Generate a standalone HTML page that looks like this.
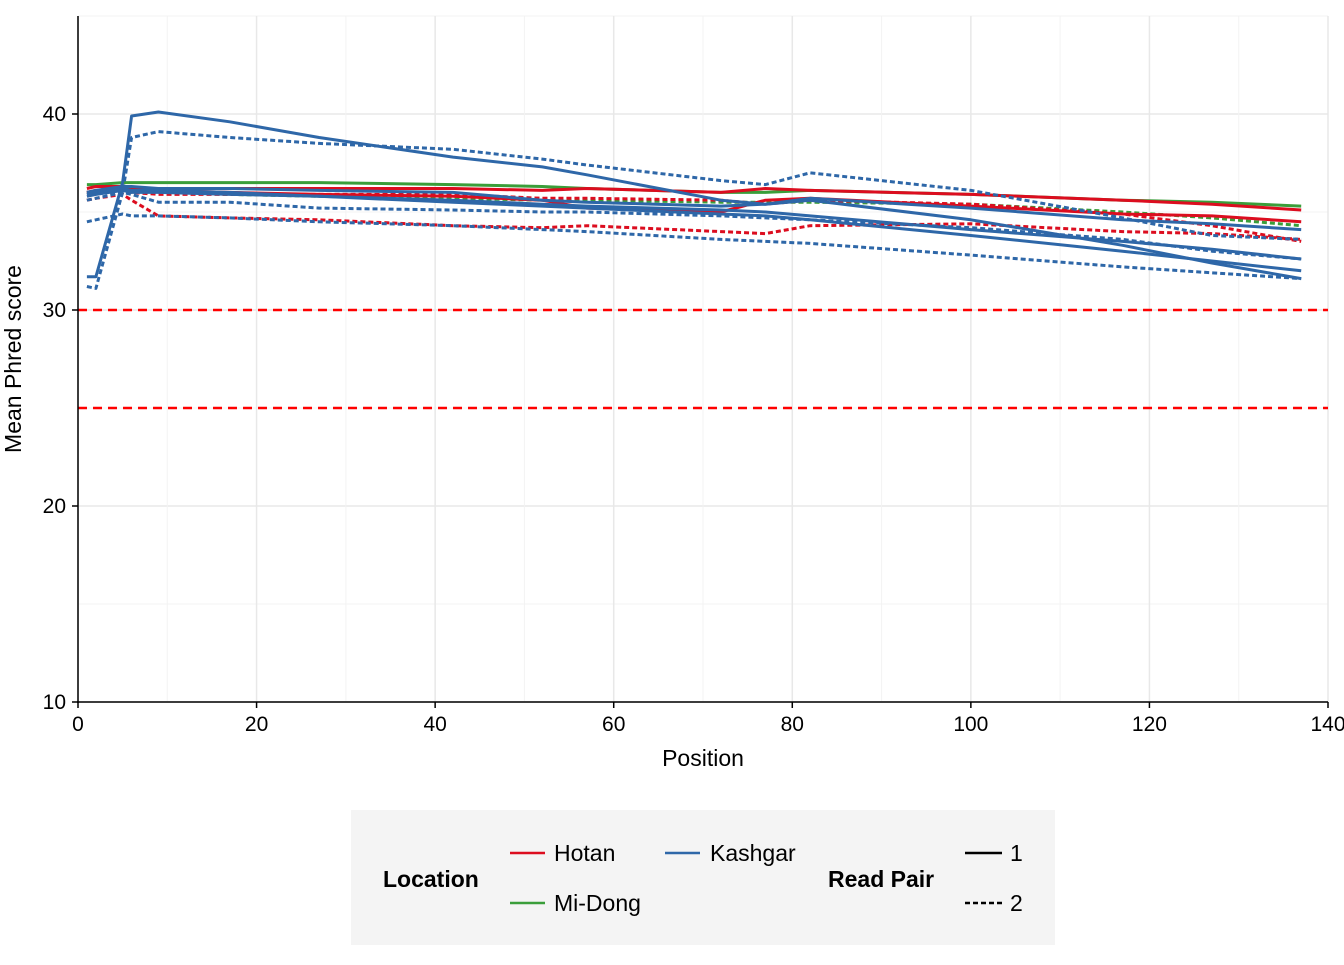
<!DOCTYPE html>
<html><head><meta charset="utf-8"><style>
body{margin:0;background:#fff;font-family:"Liberation Sans",Arial,sans-serif}
</style></head><body>
<svg id="chart" width="1344" height="960" xmlns="http://www.w3.org/2000/svg" font-family="Liberation Sans, Arial, sans-serif">
<g id="grid"></g>
<g id="series"></g>
<g id="axes"></g>
<text x="703" y="766" font-size="23" text-anchor="middle">Position</text>
<text transform="translate(21,359) rotate(-90)" font-size="23" text-anchor="middle">Mean Phred score</text>
<g>
<rect x="351" y="810" width="704" height="135" fill="#f4f4f4"/>
<text x="383" y="887" font-size="23" font-weight="bold">Location</text>
<line x1="510" y1="853" x2="545" y2="853" stroke="#dc0d1f" stroke-width="2.5"/>
<text x="554" y="861" font-size="23">Hotan</text>
<line x1="665" y1="853" x2="700" y2="853" stroke="#2e67a8" stroke-width="2.5"/>
<text x="710" y="861" font-size="23">Kashgar</text>
<line x1="510" y1="903" x2="545" y2="903" stroke="#3a9e3a" stroke-width="2.5"/>
<text x="554" y="911" font-size="23">Mi-Dong</text>
<text x="828" y="887" font-size="23" font-weight="bold">Read Pair</text>
<line x1="965" y1="853" x2="1002" y2="853" stroke="#000" stroke-width="2.5"/>
<text x="1010" y="861" font-size="23">1</text>
<line x1="965" y1="903" x2="1002" y2="903" stroke="#000" stroke-width="2.5" stroke-dasharray="5,3"/>
<text x="1010" y="911" font-size="23">2</text>
</g>
</svg>
<script>
const positions=[1,2,5,6,9,17,27,42,52,57,72,77,82,100,117,127,137];
const xTicks=[0,20,40,60,80,100,120,140];
const yTicks=[10,20,30,40];
const thresholds=[30,25];
const kashgar1a=[31.7,31.7,36.5,39.9,40.1,39.6,38.8,37.8,37.3,36.9,35.6,35.4,35.6,34.6,33.3,32.4,31.6];
const kashgar2a=[31.2,31.1,36.0,38.8,39.1,38.8,38.5,38.2,37.7,37.4,36.6,36.4,37.0,36.1,34.7,33.8,33.6];
const kashgar1b=[36.0,36.1,36.3,36.3,36.2,36.2,36.1,36.0,35.6,35.5,35.3,35.4,35.7,35.2,34.6,34.4,34.1];
const kashgar1c=[35.8,35.9,36.1,36.0,36.0,35.9,35.8,35.6,35.4,35.3,35.1,35.0,34.8,34.1,33.5,33.1,32.6];
const kashgar1d=[35.9,36.0,36.2,36.1,36.1,36.0,35.8,35.5,35.3,35.2,34.9,34.8,34.6,33.8,33.0,32.5,32.0];
const kashgar2b=[34.5,34.6,34.9,34.8,34.8,34.7,34.5,34.3,34.1,34.0,33.6,33.5,33.4,32.8,32.2,31.9,31.6];
const kashgar2c=[35.6,35.7,36.0,35.9,35.5,35.5,35.2,35.1,35.0,35.0,34.8,34.7,34.6,34.2,33.6,33.0,32.6];
const hotan1a=[36.2,36.3,36.3,36.2,36.2,36.2,36.2,36.2,36.1,36.2,36.0,36.2,36.1,35.9,35.6,35.4,35.1];
const hotan1b=[36.0,36.1,36.2,36.1,36.1,36.0,35.9,35.8,35.6,35.2,35.0,35.6,35.7,35.3,34.9,34.8,34.5];
const hotan2a=[35.6,35.7,35.9,35.6,34.8,34.7,34.6,34.3,34.2,34.3,34.0,33.9,34.3,34.4,34.0,33.9,33.6];
const hotan2b=[36.0,36.0,36.1,36.0,35.9,35.9,35.9,35.9,35.7,35.7,35.6,35.4,35.6,35.4,34.9,34.3,33.5];
const midong1=[36.4,36.4,36.5,36.5,36.5,36.5,36.5,36.4,36.3,36.2,36.0,36.0,36.1,35.9,35.6,35.5,35.3];
const midong2=[36.0,36.0,36.1,36.0,36.0,35.9,35.8,35.7,35.6,35.6,35.5,35.5,35.5,35.4,35.0,34.7,34.3];

const X0=78,X1=1328,Y0=702,YT=16;
const sx=v=>X0+(v-0)*(X1-X0)/140;
const sy=v=>Y0-(v-10)*(Y0-114)/30;
const NS="http://www.w3.org/2000/svg";
function mk(t,a,p){const e=document.createElementNS(NS,t);for(const k in a)e.setAttribute(k,a[k]);p.appendChild(e);return e;}
const grid=document.getElementById('grid'),ser=document.getElementById('series'),ax=document.getElementById('axes');
for(let v=10;v<=45;v+=5){const l=mk('line',{x1:X0,x2:X1,y1:sy(v),y2:sy(v),stroke:v%10?'#f3f3f3':'#e8e8e8','stroke-width':v%10?1:1.5},grid);

}
for(let v=0;v<=140;v+=10){const l=mk('line',{x1:sx(v),x2:sx(v),y1:YT,y2:Y0,stroke:v%20?'#f3f3f3':'#e8e8e8','stroke-width':v%20?1:1.5},grid);

}
thresholds.forEach(t=>{const l=mk('line',{x1:X0,x2:X1,y1:sy(t),y2:sy(t),stroke:'#ff0000','stroke-width':2.5,'stroke-dasharray':'9,6'},ser);

});
const R='#dc0d1f',B='#2e67a8',G='#3a9e3a';
const list=[[midong1,G,0,'midong-pair1'],[midong2,G,1,'midong-pair2'],[hotan1a,R,0,'hotan-pair1-a'],[hotan1b,R,0,'hotan-pair1-b'],[hotan2a,R,1,'hotan-pair2-a'],[hotan2b,R,1,'hotan-pair2-b'],
[kashgar1b,B,0,'kashgar-pair1-b'],[kashgar1c,B,0,'kashgar-pair1-c'],[kashgar1d,B,0,'kashgar-pair1-d'],[kashgar2b,B,1,'kashgar-pair2-b'],[kashgar2c,B,1,'kashgar-pair2-c'],[kashgar1a,B,0,'kashgar-pair1-a'],[kashgar2a,B,1,'kashgar-pair2-a']];
list.forEach(([ys,c,d,n])=>{const pts=ys.map((y,i)=>sx(positions[i]).toFixed(1)+','+sy(y).toFixed(1)).join(' ');
const a={points:pts,fill:'none',stroke:c,'stroke-width':3,'stroke-linejoin':'round'};if(d)a['stroke-dasharray']='5,3';
const p=mk('polyline',a,ser);

});
mk('line',{x1:X0,x2:X0,y1:YT,y2:Y0+1,stroke:'#000','stroke-width':1.5},ax);
mk('line',{x1:X0-1,x2:X1,y1:Y0,y2:Y0,stroke:'#000','stroke-width':1.5},ax);
xTicks.forEach(v=>{mk('line',{x1:sx(v),x2:sx(v),y1:Y0,y2:Y0+6,stroke:'#000','stroke-width':1.5},ax);
const t=mk('text',{x:sx(v),y:Y0+29,'font-size':21,'text-anchor':'middle'},ax);t.textContent=v;

});
yTicks.forEach(v=>{mk('line',{x1:X0-6,x2:X0,y1:sy(v),y2:sy(v),stroke:'#000','stroke-width':1.5},ax);
const t=mk('text',{x:X0-12,y:sy(v)+7,'font-size':21,'text-anchor':'end'},ax);t.textContent=v;

});
</script>
</body></html>
